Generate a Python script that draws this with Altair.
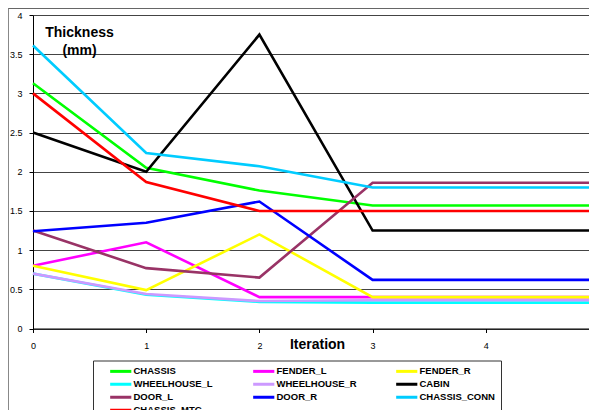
import altair as alt
import pandas as pd

iterations = [0, 1, 2, 3, 4, 5]
series_names = ["CHASSIS", "FENDER_L", "FENDER_R", "WHEELHOUSE_L", "WHEELHOUSE_R",
                "CABIN", "DOOR_L", "DOOR_R", "CHASSIS_CONN", "CHASSIS_MTG"]
series_colors = ["#00FF00", "#FF00FF", "#FFFF00", "#00FFFF", "#CC99FF",
                 "#000000", "#993366", "#0000FF", "#00CCFF", "#FF0000"]

chassis = [3.13, 2.05, 1.76, 1.57, 1.57, 1.57]
fender_l = [0.80, 1.10, 0.40, 0.40, 0.40, 0.40]
fender_r = [0.80, 0.49, 1.20, 0.40, 0.40, 0.40]
wheelhouse_l = [0.70, 0.43, 0.34, 0.33, 0.33, 0.33]
wheelhouse_r = [0.70, 0.44, 0.35, 0.36, 0.36, 0.36]
cabin = [2.50, 2.00, 3.75, 1.25, 1.25, 1.25]
door_l = [1.25, 0.77, 0.65, 1.86, 1.86, 1.86]
door_r = [1.24, 1.35, 1.62, 0.62, 0.62, 0.62]
chassis_conn = [3.61, 2.24, 2.07, 1.80, 1.80, 1.80]
chassis_mtg = [3.00, 1.87, 1.50, 1.50, 1.50, 1.50]

y_ticks = [0, 0.5, 1, 1.5, 2, 2.5, 3, 3.5, 4]

all_values = [chassis, fender_l, fender_r, wheelhouse_l, wheelhouse_r,
              cabin, door_l, door_r, chassis_conn, chassis_mtg]

rows = []
for k, (name, vals) in enumerate(zip(series_names, all_values)):
    for it, v in zip(iterations, vals):
        rows.append({"Iteration": it, "Thickness": v, "Part": name, "k": k})
df = pd.DataFrame(rows)

FONT = "Liberation Sans"
W, H = 566, 313.5

lines = alt.Chart(df).mark_line(strokeWidth=2.6).encode(
    x=alt.X("Iteration:Q",
            scale=alt.Scale(domain=[0, 5], nice=False, zero=False),
            axis=alt.Axis(values=iterations, format="d", grid=False,
                          title="Iteration", titleX=284, titleY=16,
                          titleAlign="center", titleBaseline="middle",
                          titleFont=FONT, titleFontSize=14,
                          titleFontWeight="bold", titleColor="#000",
                          labelFont=FONT, labelFontSize=9, labelColor="#000",
                          labelPadding=9, tickSize=4, tickColor="#000",
                          domainColor="#000", labelFlush=False)),
    y=alt.Y("Thickness:Q",
            scale=alt.Scale(domain=[0, 4], nice=False),
            axis=alt.Axis(values=y_ticks, format="~g",
                          title=["Thickness", "(mm)"], titleAngle=0,
                          titleX=46, titleY=10, titleAlign="center",
                          titleBaseline="top", titleLineHeight=18,
                          titleFont=FONT, titleFontSize=14,
                          titleFontWeight="bold", titleColor="#000",
                          labelFont=FONT, labelFontSize=9, labelColor="#000",
                          labelPadding=7, tickSize=4, tickColor="#000",
                          domainColor="#000", gridColor="#444", gridWidth=1)),
    color=alt.Color("Part:N",
                    scale=alt.Scale(domain=series_names, range=series_colors),
                    sort=series_names,
                    legend=alt.Legend(title=None, orient="none", legendX=60, legendY=345.5,
                                      direction="horizontal", columns=3, gridAlign="all",
                                      symbolType="M-4,0H4", symbolSize=28,
                                      symbolStrokeWidth=3, symbolOffset=17,
                                      labelFont=FONT, labelFontSize=9.5,
                                      labelFontWeight="bold", labelColor="#000",
                                      labelOffset=8, columnPadding=28, rowPadding=0,
                                      padding=6, strokeColor="#333",
                                      fillColor="#FFFFFF")),
    order=alt.Order("Iteration:Q"),
)

border_df = pd.DataFrame({"a": [0]})
top_border = alt.Chart(border_df).mark_rule(color="#666", strokeWidth=1).encode(
    x=alt.value(-25), x2=alt.value(W + 10), y=alt.value(-6.5))
left_border = alt.Chart(border_df).mark_rule(color="#888", strokeWidth=1).encode(
    x=alt.value(-24.5), y=alt.value(-6.5), y2=alt.value(H + 100))

chart = alt.layer(top_border, left_border, lines).properties(
    width=W, height=H,
    autosize=alt.AutoSizeParams(type="none"),
    padding={"left": 25, "top": 7, "right": -10, "bottom": 81.5},
    background="white",
).configure_view(stroke=None)

chart.save("out.html", embed_options={"renderer": "svg", "actions": False})
